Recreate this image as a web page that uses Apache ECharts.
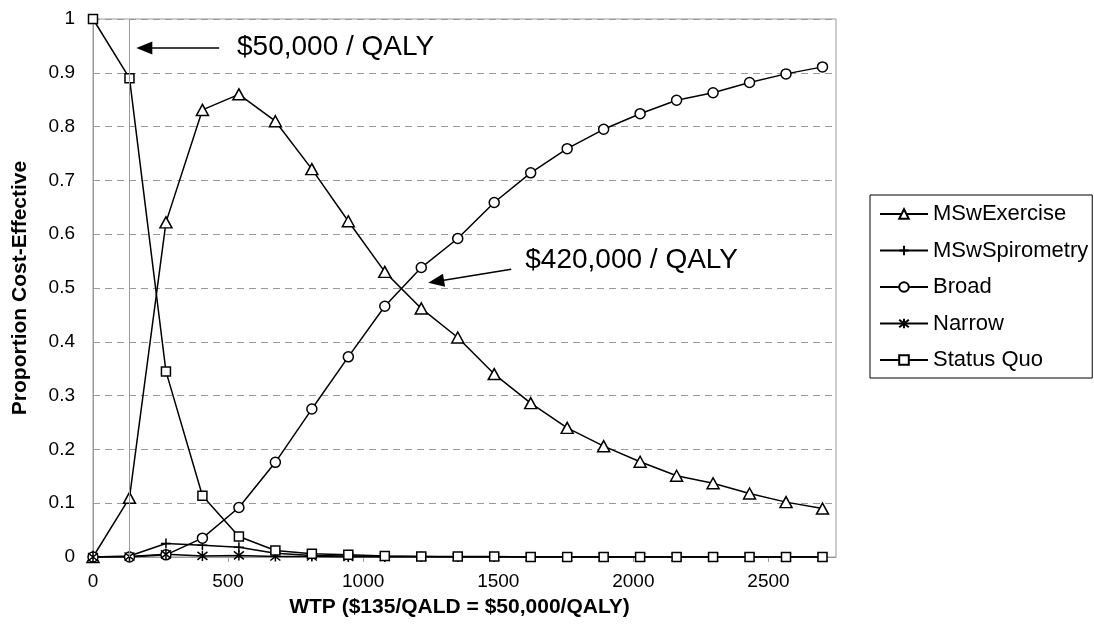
<!DOCTYPE html>
<html>
<head>
<meta charset="utf-8">
<script src="https://cdn.jsdelivr.net/npm/echarts@6/dist/echarts.min.js"></script>
<style>
  html, body { margin: 0; padding: 0; background: #fff; }
  #chart { width: 1094px; height: 643px; }
</style>
</head>
<body>
<div id="chart"></div>
<script>
// Willingness-to-pay values ($ per QALD)
const wtp = [0, 135, 270, 405, 540, 675, 810, 945, 1080, 1215, 1350,
             1485, 1620, 1755, 1890, 2025, 2160, 2295, 2430, 2565, 2700];

// Proportion cost-effective for each strategy
const mswExercise = [0, 0.11, 0.622, 0.831, 0.86, 0.81, 0.721, 0.624, 0.530, 0.462, 0.408,
                     0.340, 0.286, 0.240, 0.206, 0.177, 0.151, 0.137, 0.118, 0.102, 0.090];
const mswSpirometry = [0, 0.002, 0.025, 0.022, 0.018, 0.007, 0.003, 0.002, 0.001, 0.001, 0,
                       0, 0, 0, 0, 0, 0, 0, 0, 0, 0];
const broad = [0, 0, 0.004, 0.035, 0.092, 0.176, 0.275, 0.372, 0.466, 0.538, 0.592,
               0.659, 0.714, 0.759, 0.795, 0.824, 0.849, 0.863, 0.882, 0.898, 0.911];
const narrow = [0, 0.001, 0.005, 0.002, 0.003, 0.001, 0.001, 0, 0, 0, 0,
                0, 0, 0, 0, 0, 0, 0, 0, 0, 0];
const statusQuo = [1, 0.89, 0.345, 0.114, 0.038, 0.012, 0.006, 0.004, 0.002, 0.001, 0.001,
                   0.001, 0, 0, 0, 0, 0, 0, 0, 0, 0];

const seriesNames = ['MSwExercise', 'MSwSpirometry', 'Broad', 'Narrow', 'Status Quo'];
const xTicks = [0, 500, 1000, 1500, 2000, 2500];

// Threshold annotations, in data units: text anchor, arrow tail and arrow head
const thresholdLine = 135;
const note50 = { text: '$50,000 / QALY', at: [533, 0.948], from: [467, 0.946], to: [190, 0.946] };
const note420 = { text: '$420,000 / QALY', at: [1600, 0.552], from: [1548, 0.535], to: [1270, 0.512] };

const FONT = "'Liberation Sans', Arial, sans-serif";
const PLUS = 'path://M5 0 L5 10 M0 5 L10 5';
const STAR = 'path://M5 0 L5 10 M1 1 L9 9 M1 9 L9 1';

function pairs(ys) { return wtp.map((x, i) => [x, ys[i]]); }

function lineSeries(name, ys, symbol, size) {
  return {
    name: name,
    type: 'line',
    data: pairs(ys),
    symbol: symbol,
    symbolSize: size,
    showAllSymbol: true,
    lineStyle: { color: '#000', width: 1.5 },
    itemStyle: { color: '#fff', borderColor: '#000', borderWidth: 1.5 },
    emphasis: { disabled: true },
    z: 3
  };
}

const chart = echarts.init(document.getElementById('chart'), null, { renderer: 'canvas' });

const series = [
  lineSeries(seriesNames[0], mswExercise, 'triangle', [12, 11]),
  lineSeries(seriesNames[1], mswSpirometry, PLUS, 10),
  lineSeries(seriesNames[2], broad, 'circle', 10),
  lineSeries(seriesNames[3], narrow, STAR, 10),
  lineSeries(seriesNames[4], statusQuo, 'rect', 9)
];

// Reference line at $50,000/QALY plus the two arrow annotations
series[0].markLine = {
  silent: true,
  animation: false,
  label: { show: false },
  data: [
    [{ coord: [thresholdLine, 0], symbol: 'none', lineStyle: { color: '#999', width: 1, type: 'solid' } },
     { coord: [thresholdLine, 1], symbol: 'none' }],
    [{ coord: note50.from, symbol: 'none', lineStyle: { color: '#000', width: 1.5, type: 'solid' } },
     { coord: note50.to, symbol: 'triangle', symbolSize: [13, 16] }],
    [{ coord: note420.from, symbol: 'none', lineStyle: { color: '#000', width: 1.5, type: 'solid' } },
     { coord: note420.to, symbol: 'triangle', symbolSize: [13, 16] }]
  ]
};
series[0].markPoint = {
  silent: true,
  animation: false,
  symbol: 'circle',
  symbolSize: 0,
  label: {
    show: true,
    position: 'right',
    distance: 0,
    color: '#000',
    fontFamily: FONT,
    fontSize: 28
  },
  data: [
    { coord: note50.at, value: note50.text, label: { formatter: note50.text } },
    { coord: note420.at, value: note420.text, label: { formatter: note420.text } }
  ]
};

chart.setOption({
  animation: false,
  backgroundColor: '#fff',
  textStyle: { fontFamily: FONT },
  grid: {
    left: 93, right: 258, top: 19, bottom: 86,
    show: true, borderColor: '#999', borderWidth: 1, backgroundColor: '#fff'
  },
  legend: {
    data: seriesNames,
    orient: 'vertical',
    left: 870,
    top: 195,
    itemWidth: 48,
    itemHeight: 12,
    itemGap: 14.5,
    padding: [8, 4, 7, 9],
    borderColor: '#000',
    borderWidth: 1,
    backgroundColor: '#fff',
    selectedMode: false,
    textStyle: { fontFamily: FONT, fontSize: 22, color: '#000', lineHeight: 22, padding: [0, 0, 0, 0] }
  },
  xAxis: {
    type: 'value',
    min: 0,
    max: 2750,
    interval: 500,
    name: 'WTP ($135/QALD = $50,000/QALY)',
    nameLocation: 'middle',
    nameGap: 40,
    nameTextStyle: { fontFamily: FONT, fontSize: 21, fontWeight: 'bold', color: '#000', padding: [0, 10, 0, 0] },
    axisLine: { show: true, onZero: false, lineStyle: { color: '#999', width: 1 } },
    axisTick: { show: true, inside: false, length: 5, lineStyle: { color: '#999' } },
    splitLine: { show: false },
    axisLabel: {
      showMaxLabel: false,
      margin: 15,
      fontSize: 19,
      color: '#000',
      fontFamily: FONT,
      formatter: v => (xTicks.indexOf(v) >= 0 ? String(v) : '')
    }
  },
  yAxis: {
    type: 'value',
    min: 0,
    max: 1,
    interval: 0.1,
    name: 'Proportion Cost-Effective',
    nameLocation: 'middle',
    nameGap: 62,
    nameTextStyle: { fontFamily: FONT, fontSize: 21, fontWeight: 'bold', color: '#000' },
    axisLine: { show: true, lineStyle: { color: '#999', width: 1 } },
    axisTick: { show: false },
    splitLine: { show: true, lineStyle: { color: '#999', width: 1, type: [7, 5] } },
    axisLabel: {
      margin: 18,
      fontSize: 19,
      color: '#000',
      fontFamily: FONT,
      formatter: v => (v === 0 ? '0' : v === 1 ? '1' : v.toFixed(1))
    }
  },
  series: series
});
</script>
</body>
</html>
